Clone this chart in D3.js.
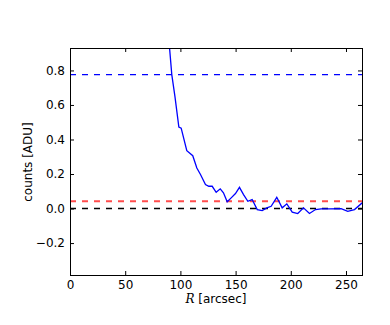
<!DOCTYPE html>
<html>
<head>
<meta charset="utf-8">
<script src="https://cdn.jsdelivr.net/npm/d3@7"></script>
<style>
  body { margin: 0; background: #fff; }
  text { font-family: "DejaVu Sans", sans-serif; }
</style>
</head>
<body>
<div id="view"></div>
<script>
// radial profile
var radius = [89, 92.2, 95.1, 98.6, 100.7, 105.8, 111.2, 114.9, 118.2, 122.7, 125.7, 128.8,
  132.4, 136.1, 139.0, 142.4, 146.0, 149.9, 153.5, 157.2, 161.1, 165.0, 169.6, 174.1,
  178.3, 182.2, 187.3, 192.2, 196.4, 201.3, 206.3, 211.5, 216.9, 222.4, 227.5, 235.1,
  245.6, 251.6, 257.7, 264.7];
var counts = [1.02, 0.776, 0.647, 0.472, 0.466, 0.335, 0.306, 0.235, 0.197, 0.139, 0.129, 0.129,
  0.094, 0.114, 0.091, 0.039, 0.062, 0.087, 0.123, 0.081, 0.042, 0.052, -0.006, -0.012,
  0.004, 0.013, 0.065, 0.004, 0.027, -0.021, -0.029, 0.004, -0.029, -0.006, -0.002, -0.002,
  0.0, -0.016, -0.006, 0.033];

// horizontal reference levels
var levels = [0.776, 0.042, 0.0];
var levelColors = ["#0000ff", "#ff4c4c", "#000000"];
var levelWidths = [1.2, 2, 1.4];

var xTicks = [0, 50, 100, 150, 200, 250];
var yTicks = [-0.2, 0.0, 0.2, 0.4, 0.6, 0.8];

var margin = {top: 48, left: 70},
    width = 292,
    height = 227;

var svg = d3.select("#view")
    .append("svg")
    .attr("width", 390)
    .attr("height", 325);

var g = svg.append("g")
    .attr("transform", "translate(" + margin.left + "," + margin.top + ")");

var x = d3.scaleLinear().domain([0, 264.5]).range([0, width]);
var y = d3.scaleLinear().domain([-0.385, 0.93]).range([height, 0]);

g.append("clipPath").attr("id", "clip")
    .append("rect").attr("width", width).attr("height", height);

var plot = g.append("g").attr("clip-path", "url(#clip)");

plot.selectAll("line.level")
    .data(levels)
    .enter().append("line")
    .attr("class", "level")
    .attr("x1", 0)
    .attr("x2", width)
    .attr("y1", function(d) { return y(d); })
    .attr("y2", function(d) { return y(d); })
    .attr("stroke", function(d, i) { return levelColors[i]; })
    .attr("stroke-width", function(d, i) { return levelWidths[i]; })
    .attr("stroke-dasharray", "6,6");

var line = d3.line()
    .x(function(d) { return x(d[0]); })
    .y(function(d) { return y(d[1]); });

plot.append("path")
    .datum(d3.zip(radius, counts))
    .attr("fill", "none")
    .attr("stroke", "#0000ff")
    .attr("stroke-width", 1.3)
    .attr("d", line);

var fmt = d3.format(".1f");

function style(sel) {
    sel.selectAll("text").attr("font-size", 12).attr("fill", "#000")
        .style("font-family", "DejaVu Sans");
    sel.selectAll("line").attr("stroke", "#000");
    sel.select(".domain").remove();
}

g.append("g")
    .attr("transform", "translate(0," + height + ")")
    .call(d3.axisBottom(x).tickValues(xTicks).tickSize(-4).tickPadding(5))
    .call(style);

g.append("g")
    .call(d3.axisTop(x).tickValues(xTicks).tickSize(-4).tickFormat(""))
    .call(style);

g.append("g")
    .call(d3.axisLeft(y).tickValues(yTicks).tickSize(-4).tickPadding(5).tickFormat(fmt))
    .call(style);

g.append("g")
    .attr("transform", "translate(" + width + ",0)")
    .call(d3.axisRight(y).tickValues(yTicks).tickSize(-4).tickFormat(""))
    .call(style);

g.append("rect")
    .attr("x", 0.5)
    .attr("y", 0.5)
    .attr("width", width)
    .attr("height", height)
    .attr("fill", "none")
    .attr("stroke", "#000")
    .attr("stroke-width", 1);

var xl = svg.append("text")
    .attr("x", margin.left + width / 2)
    .attr("y", 303)
    .attr("text-anchor", "middle")
    .attr("font-size", 12);
xl.append("tspan")
    .style("font-family", "DejaVu Serif")
    .attr("font-style", "italic")
    .text("R");
xl.append("tspan").text(" [arcsec]");

svg.append("text")
    .attr("transform", "translate(32," + (margin.top + 114) + ") rotate(-90)")
    .attr("text-anchor", "middle")
    .attr("font-size", 12)
    .text("counts [ADU]");
</script>
</body>
</html>
